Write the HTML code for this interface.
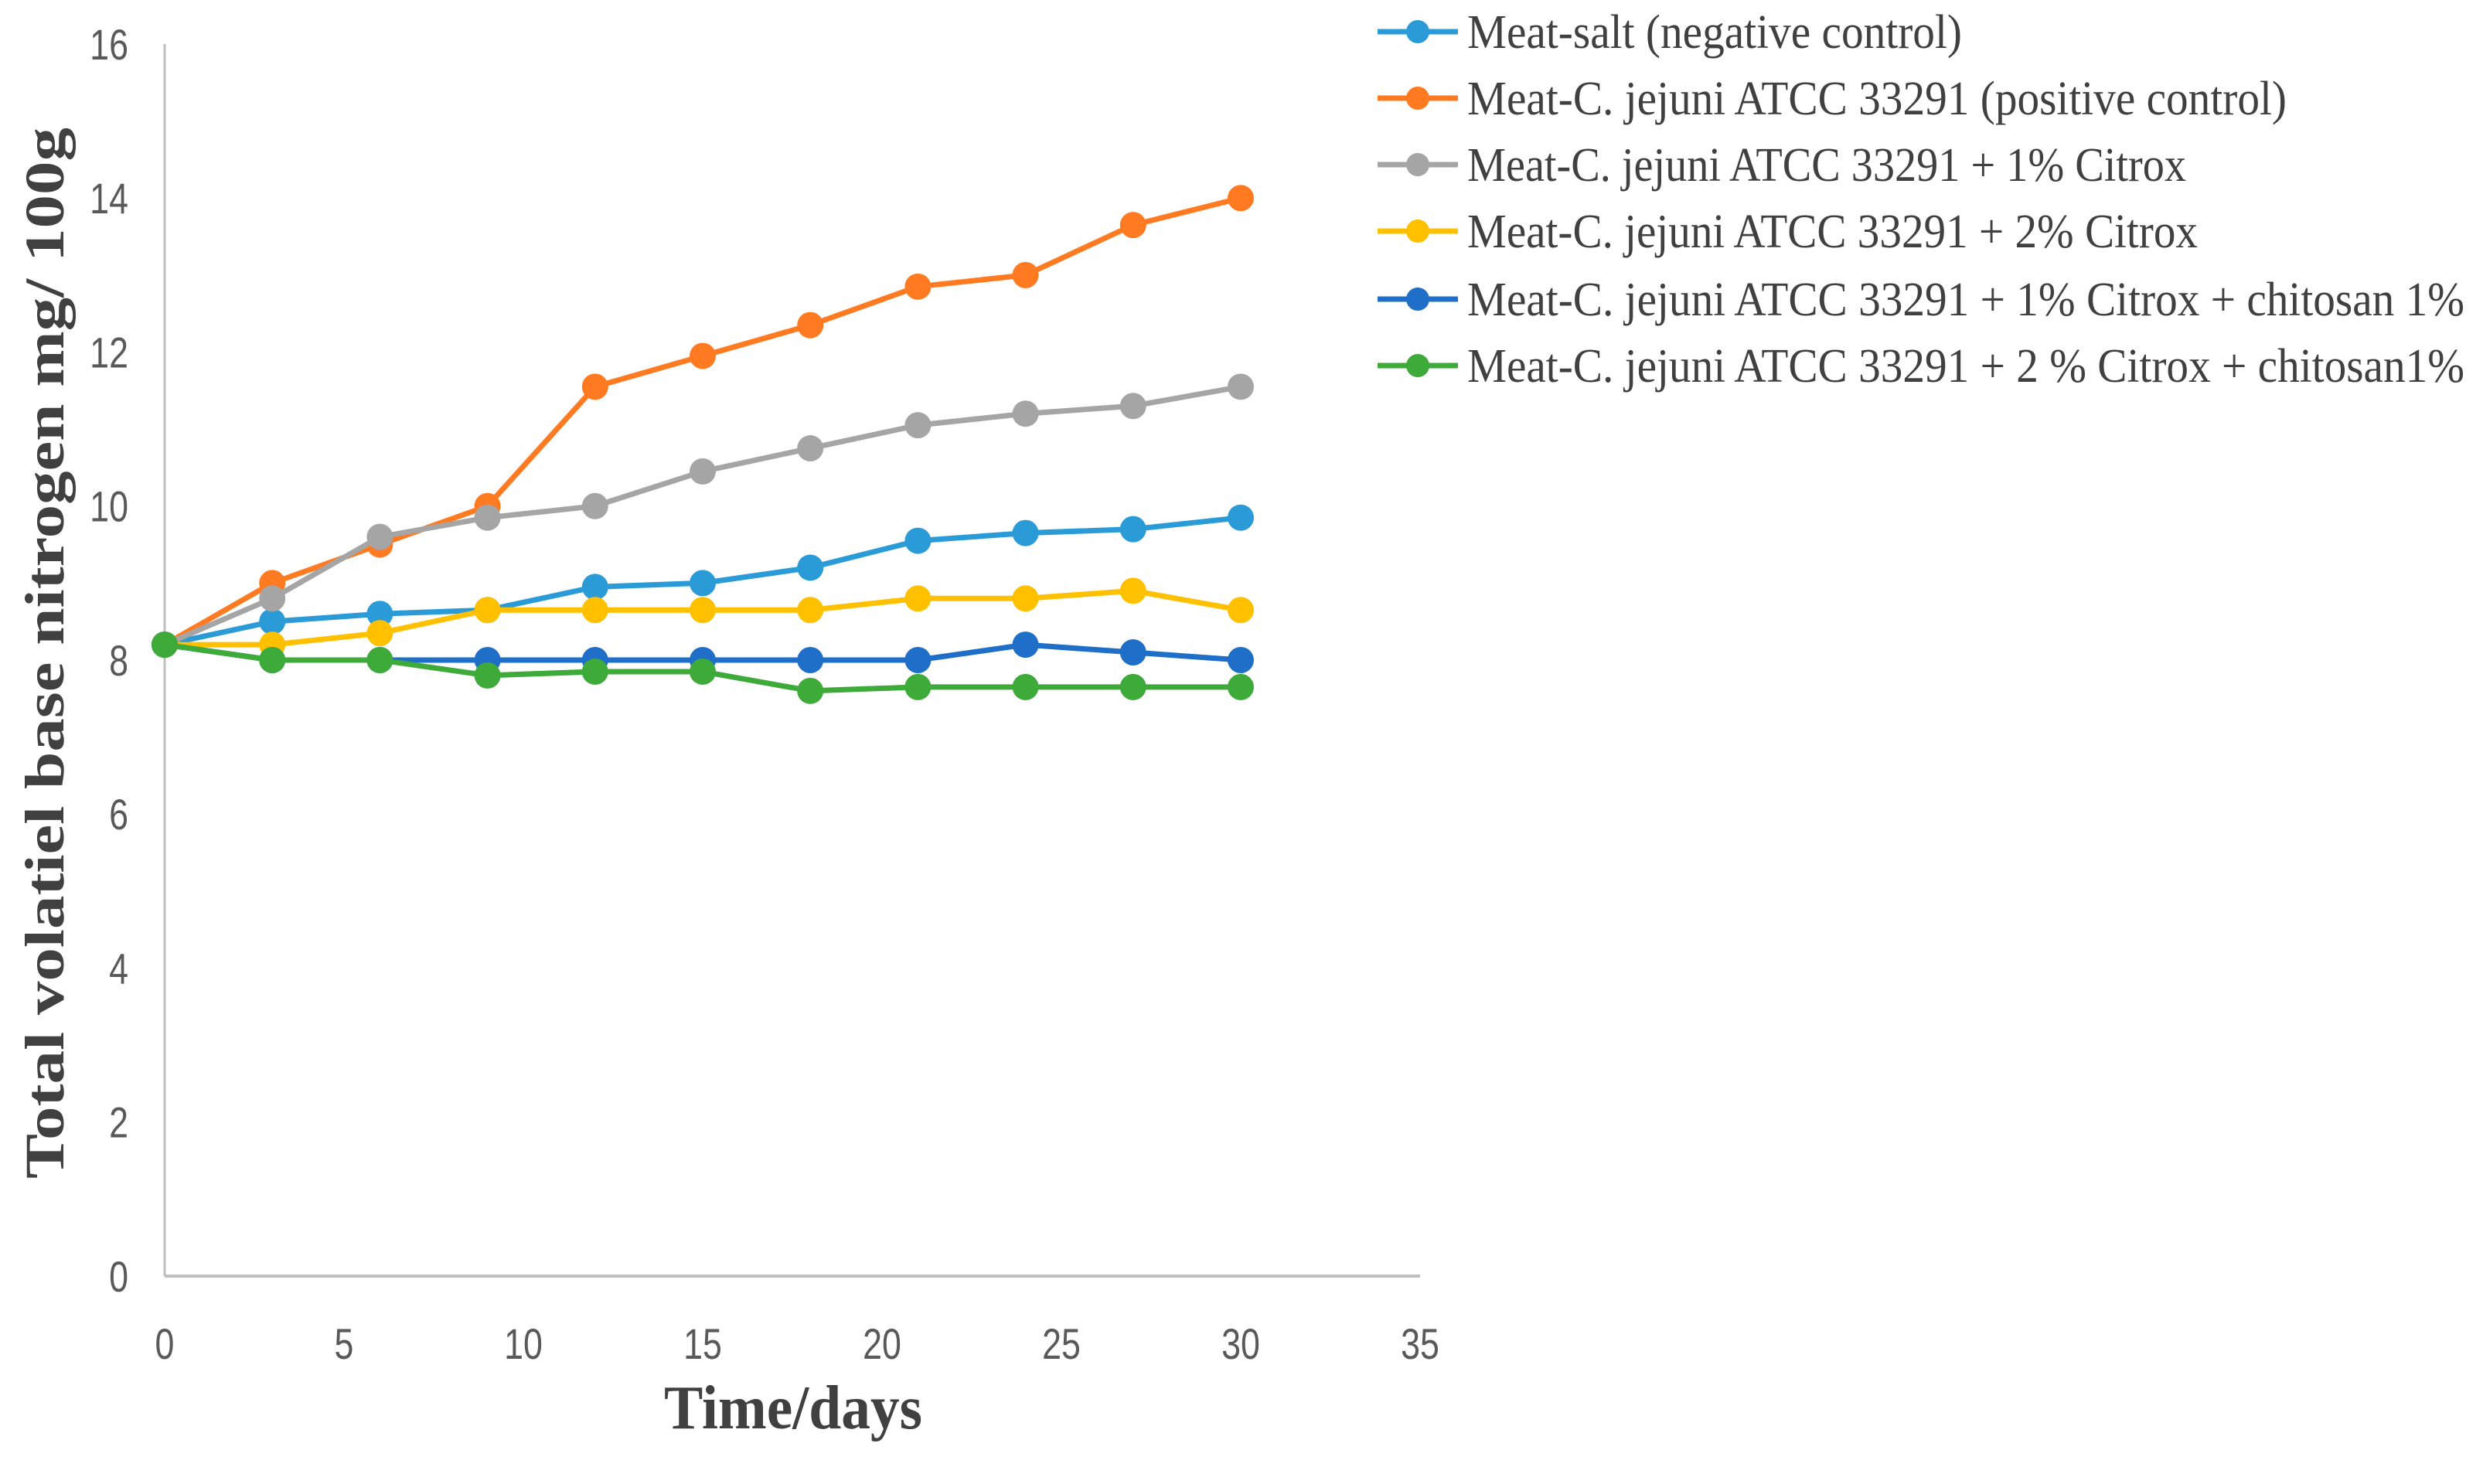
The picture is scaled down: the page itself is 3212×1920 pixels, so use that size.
<!DOCTYPE html>
<html><head><meta charset="utf-8"><style>
html,body{margin:0;padding:0;background:#fff;}
svg{display:block;}
</style></head><body>
<svg id="chart" width="3212" height="1920" viewBox="0 0 3212 1920" xmlns="http://www.w3.org/2000/svg">
<rect width="3212" height="1920" fill="#fff"/>
<g id="axes"></g>
<g id="series"></g>
<g id="legend"></g>
<text x="0" y="0" transform="translate(82,845) rotate(-90)" text-anchor="middle" font-family="Liberation Serif, serif" font-weight="bold" font-size="72" fill="#404040" textLength="1360" lengthAdjust="spacingAndGlyphs">Total volatiel base nitrogen mg/ 100g</text>
<text x="1026" y="1848" text-anchor="middle" font-family="Liberation Serif, serif" font-weight="bold" font-size="80" fill="#404040" textLength="334" lengthAdjust="spacingAndGlyphs">Time/days</text>
</svg>
<script>
const days = [0,3,6,9,12,15,18,21,24,27,30];
const seriesNames = ["Meat-salt (negative control)","Meat-C. jejuni ATCC 33291 (positive control)","Meat-C. jejuni ATCC 33291 + 1% Citrox","Meat-C. jejuni ATCC 33291 + 2% Citrox","Meat-C. jejuni ATCC 33291 + 1% Citrox + chitosan 1%","Meat-C. jejuni ATCC 33291 + 2 % Citrox + chitosan1%"];
const negControl = [8.2,8.5,8.6,8.65,8.95,9.0,9.2,9.55,9.65,9.7,9.85];
const posControl = [8.2,9.0,9.5,10.0,11.55,11.95,12.35,12.85,13.0,13.65,14.0];
const citrox1 = [8.2,8.8,9.6,9.85,10.0,10.45,10.75,11.05,11.2,11.3,11.55];
const citrox2 = [8.2,8.2,8.35,8.65,8.65,8.65,8.65,8.8,8.8,8.9,8.65];
const citrox1Chit = [8.2,8.0,8.0,8.0,8.0,8.0,8.0,8.0,8.2,8.1,8.0];
const citrox2Chit = [8.2,8.0,8.0,7.8,7.85,7.85,7.6,7.65,7.65,7.65,7.65];
const xTicks = [0,5,10,15,20,25,30,35];
const yTicks = [0,2,4,6,8,10,12,14,16];

const NS="http://www.w3.org/2000/svg";
const X0=213,X1=1837,Y0=1651,Y1=57;
function sx(v){return X0+(v-0)/(35-0)*(X1-X0);}
function sy(v){return Y0-(v-0)/(16-0)*(Y0-Y1);}
function mk(tag,attrs,parent){const e=document.createElementNS(NS,tag);for(const k in attrs)e.setAttribute(k,attrs[k]);parent.appendChild(e);return e;}

const axes=document.getElementById('axes');
let l=mk('line',{x1:X0,y1:Y1,x2:X0,y2:Y0,stroke:'#bfbfbf','stroke-width':3},axes);


l=mk('line',{x1:X0,y1:Y0,x2:X1,y2:Y0,stroke:'#bfbfbf','stroke-width':4},axes);


yTicks.forEach(v=>{
  const t=mk('text',{x:166,y:sy(v)+20,'text-anchor':'end','font-family':'Liberation Sans, sans-serif','font-size':56,fill:'#595959',transform:`translate(166,0) scale(0.8,1) translate(-166,0)`},axes);
  t.textContent=v;
  
  
});
xTicks.forEach(v=>{
  const t=mk('text',{x:sx(v),y:1758,'text-anchor':'middle','font-family':'Liberation Sans, sans-serif','font-size':56,fill:'#595959',transform:`translate(${sx(v)},0) scale(0.8,1) translate(${-sx(v)},0)`},axes);
  t.textContent=v;
  
  
});

const allSeries=[negControl,posControl,citrox1,citrox2,citrox1Chit,citrox2Chit];
const colors=['#2b9bd8','#ff7a21','#a5a5a5','#ffc000','#1f6fc8','#3eaa3a'];
const sg=document.getElementById('series');
allSeries.forEach((vals,i)=>{
  const g=mk('g',{},sg);
  
  
  const pts=vals.map((v,j)=>sx(days[j])+','+sy(v)).join(' ');
  const pl=mk('polyline',{points:pts,fill:'none',stroke:colors[i],'stroke-width':7,'stroke-linejoin':'round'},g);
  
  
  vals.forEach((v,j)=>{
    const c=mk('circle',{cx:sx(days[j]),cy:sy(v),r:17,fill:colors[i]},g);
    
    
  });
});

const lg=document.getElementById('legend');
const rowY=[41,127,213,299,387,473];
const textW=[640,1060,930,945,1290,1290];
seriesNames.forEach((n,i)=>{
  const g=mk('g',{},lg);
  
  
  mk('line',{x1:1782,y1:rowY[i],x2:1886,y2:rowY[i],stroke:colors[i],'stroke-width':7},g);
  mk('circle',{cx:1834,cy:rowY[i],r:15,fill:colors[i]},g);
  const t=mk('text',{x:1898,y:rowY[i]+21,'font-family':'Liberation Serif, serif','font-size':62,fill:'#404040',textLength:textW[i],lengthAdjust:'spacingAndGlyphs'},g);
  t.textContent=n;
  
  
});
</script>
</body></html>
